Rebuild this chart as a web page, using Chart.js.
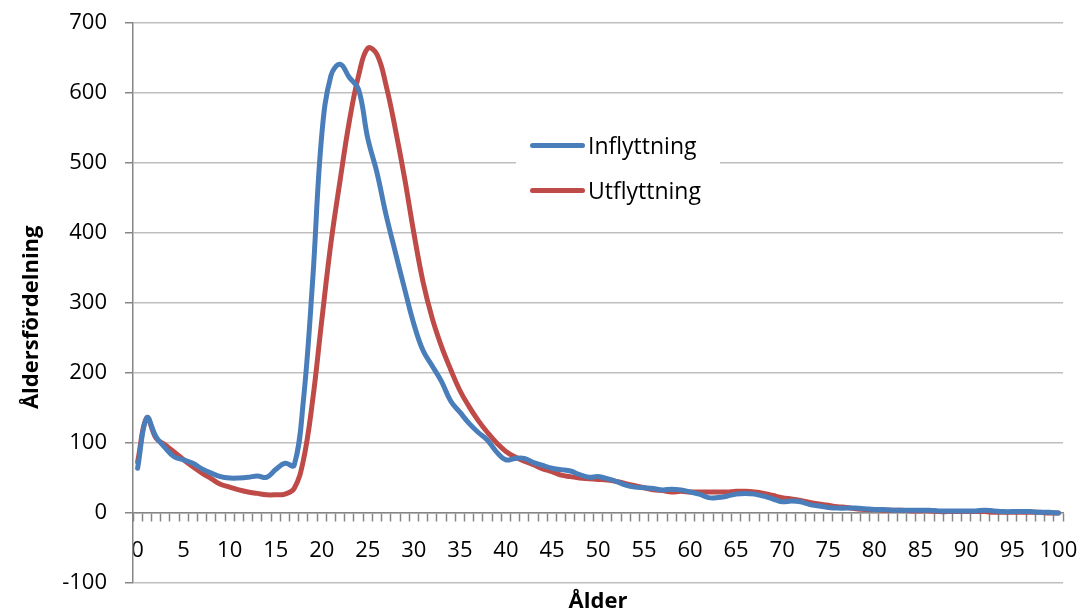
<!DOCTYPE html>
<html>
<head>
<meta charset="utf-8">
<script src="https://cdn.jsdelivr.net/npm/chart.js@4"></script>
<style>
  body { margin: 0; background: #fff; }
  #wrap { position: relative; width: 1078px; height: 615px; }
  #legend {
    position: absolute; left: 516px; top: 125px; width: 204px; height: 80px;
    background: #fff; font-family: "Open Sans", sans-serif; font-size: 23px; color: #000;
  }
  #legend .item { position: absolute; left: 14px; display: flex; align-items: center; line-height: 30px; }
  #legend .swatch { width: 55px; height: 5px; border-radius: 3px; margin-right: 3px; }
</style>
</head>
<body>
<div id="wrap">
  <canvas id="myChart" width="1078" height="615"></canvas>
  <div id="legend"></div>
</div>
<script>
// ålder 0..100
const ages = [];
for (let a = 0; a <= 100; a++) ages.push(String(a));

const inflyttning = [
  64, 136, 109, 93, 80, 76, 71, 63, 57, 52,
  50, 50, 51, 53, 51, 62, 71, 68, 160, 330,
  540, 625, 641, 622, 605, 535, 486, 425, 372, 320,
  270, 232, 210, 188, 160, 144, 128, 115, 104, 87,
  76, 78, 78, 72, 68, 64, 62, 60, 55, 51,
  52, 49, 45, 40, 37, 36, 35, 33, 34, 33,
  30, 27, 22, 22, 24, 27, 28, 27, 24, 20,
  16, 17, 16, 12, 10, 8, 7, 7, 7, 6,
  5, 5, 4, 4, 4, 4, 4, 3, 3, 3,
  3, 3, 4, 3, 2, 2, 2, 2, 1, 1,
  0
];
const utflyttning = [
  73, 136, 107, 97, 87, 76, 66, 57, 49, 41,
  37, 33, 30, 28, 26, 26, 27, 35, 75, 160,
  275, 386, 476, 560, 625, 664, 655, 610, 548, 478,
  400, 330, 278, 238, 205, 175, 152, 132, 115, 100,
  88, 80, 74, 69, 63, 59, 54, 52, 50, 49,
  48, 47, 45, 42, 39, 36, 33, 32, 30, 31,
  30, 30, 30, 30, 30, 31, 31, 30, 28, 25,
  22, 20, 18, 15, 13, 11, 9, 8, 6, 5,
  5, 4, 4, 4, 3, 3, 3, 2, 2, 2,
  2, 2, 2, 1, 1, 1, 1, 1, 1, 0,
  0
];
const yTicks = { min: -100, max: 700, step: 100 };

const font = "'Open Sans', sans-serif";
const axisGrey = '#868686';
const gridGrey = '#BFBFBF';

const ctx = document.getElementById('myChart').getContext('2d');
const myChart = new Chart(ctx, {
  type: 'line',
  data: {
    labels: ages,
    datasets: [
      {
        label: 'Inflyttning',
        data: inflyttning,
        borderColor: '#4A7EBB',
        borderWidth: 5,
        pointRadius: 0,
        tension: 0.4,
        borderCapStyle: 'round'
      },
      {
        label: 'Utflyttning',
        data: utflyttning,
        borderColor: '#BE4B48',
        borderWidth: 5,
        pointRadius: 0,
        tension: 0.4,
        borderCapStyle: 'round'
      }
    ]
  },
  options: {
    responsive: false,
    animation: false,
    devicePixelRatio: 1,
    layout: { padding: { top: 23, right: 15, left: 0, bottom: 0 } },
    plugins: {
      legend: { display: false },
      tooltip: { enabled: false }
    },
    scales: {
      x: {
        type: 'category',
        position: { y: 0 },
        offset: true,
        grid: {
          offset: true,
          drawOnChartArea: false,
          drawTicks: true,
          tickLength: 8,
          tickColor: axisGrey,
          tickWidth: 1.5
        },
        border: { color: axisGrey, width: 1.5 },
        ticks: {
          autoSkip: false,
          maxRotation: 0,
          padding: 17,
          color: '#000',
          font: { family: font, size: 22 },
          callback: function (val, i) { return i % 5 === 0 ? this.getLabelForValue(val) : ''; }
        },
        afterFit: (s) => { s.paddingLeft = 0; s.paddingRight = 0; }
      },
      xTitle: {
        type: 'category',
        position: 'bottom',
        grid: { display: false },
        border: { display: false },
        ticks: { display: false },
        title: {
          display: true,
          text: 'Ålder',
          color: '#000',
          padding: 0,
          font: { family: font, size: 22, weight: 'bold' }
        },
        afterFit: (s) => { s.height = 32; }
      },
      y: {
        min: yTicks.min,
        max: yTicks.max,
        ticks: {
          stepSize: yTicks.step,
          padding: 18,
          color: '#000',
          font: { family: font, size: 22 }
        },
        grid: {
          color: gridGrey,
          lineWidth: 1.5,
          tickLength: 8,
          tickColor: axisGrey
        },
        border: { color: axisGrey, width: 1.5 },
        title: {
          display: true,
          text: 'Åldersfördelning     ',
          color: '#000',
          padding: { top: 19 },
          font: { family: font, size: 22, weight: 'bold' }
        },
        afterFit: (s) => { s.width = 133; s.paddingTop = 0; s.paddingBottom = 0; }
      }
    }
  }
});

// legend in HTML, built from the datasets
const legendEl = document.getElementById('legend');
myChart.data.datasets.forEach((ds, i) => {
  const item = document.createElement('div');
  item.className = 'item';
  item.style.top = (i * 45 + 5) + 'px';
  item.innerHTML = `<span class="swatch" style="background:${ds.borderColor}"></span><span>${ds.label}</span>`;
  legendEl.appendChild(item);
});
</script>
</body>
</html>
